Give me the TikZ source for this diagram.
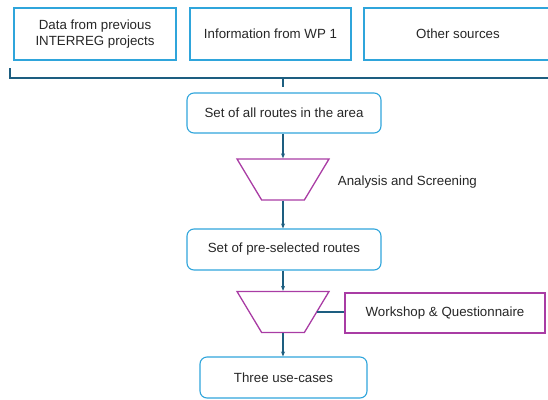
\documentclass[tikz,border=0pt]{standalone}
\usepackage{fontspec}
\setmainfont{Liberation Sans}
\usetikzlibrary{shapes.geometric,arrows.meta}
\definecolor{boxblue}{HTML}{2FA5DB}
\definecolor{flowteal}{HTML}{1D5E80}
\definecolor{filtermag}{HTML}{A93CA4}
\definecolor{ink}{HTML}{262626}
\tikzset{every picture/.style={line width=1.1pt}}
\tikzset{
  txt/.style={text=ink, font=\fontsize{13.3}{15.5}\selectfont},
  source/.style={txt, draw=boxblue, minimum height=52pt, align=center},
  stage/.style={txt, draw=boxblue, rounded corners=7pt, minimum height=40pt},
  filter/.style={draw=filtermag, line width=1.3pt, trapezium, shape border rotate=180, trapezium stretches=true, minimum width=92pt, minimum height=41pt},
  flow/.style={draw=flowteal, -{Stealth[length=5pt,width=4pt]}},
}

\begin{document}
\begin{tikzpicture}[x=1pt, y=-1pt]
\useasboundingbox (0,0) rectangle (548,399);
\node[source, minimum width=162pt] (data) at (95,34) {Data from previous\\INTERREG projects};
\node[source, minimum width=161pt] (wp) at (270.5,34) {Information from WP 1};
\node[source, minimum width=188pt] (other) at (458,34) {Other sources};
%
% brace under the three sources
\coordinate (bl) at (10,68);
\coordinate (bc) at (283,78);
\coordinate (bt) at (283,87);
\draw[flowteal] (bl) -- (10,78) -- (552,78);
\draw[flowteal] (bc) -- (bt);
%
\node[stage, minimum width=194pt] (all) at (284,113) {Set of all routes in the area};
\node[filter] (screen) at (283,179.5) {};
\node[txt, anchor=west] (screenlbl) at (334,182) {Analysis and Screening};
\node[stage, minimum width=194pt, minimum height=41pt] (pre) at (284,249.5) {Set of pre-selected routes};
\node[filter] (workshop) at (283,312) {};
\node[txt, draw=filtermag, minimum width=200pt, minimum height=40pt] (wq) at (445,313) {Workshop \& Questionnaire};
\node[stage, minimum width=167pt, minimum height=41pt] (cases) at (283.5,377.5) {Three use-cases};
%
\draw[flow] (all.south -| screen) -- (screen.north);
\draw[flow] (screen.south) -- (pre.north -| screen);
\draw[flow] (pre.south -| workshop) -- (workshop.north);
\draw[flow] (workshop.south) -- (cases.north -| workshop);
\draw[flowteal] (workshop.east) -- (wq.west |- workshop.east);
\end{tikzpicture}
\end{document}
